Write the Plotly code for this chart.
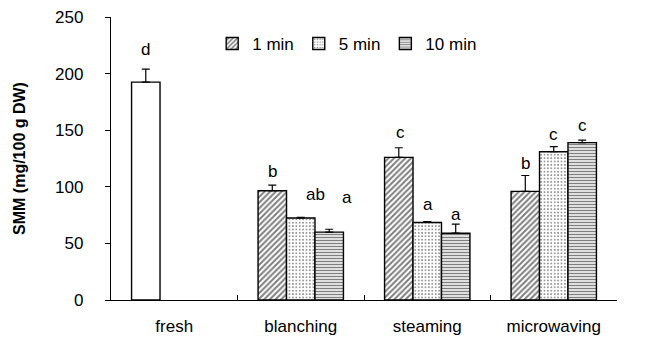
import plotly.graph_objects as go

categories = ["fresh", "blanching", "steaming", "microwaving"]
series_names = ["1 min", "5 min", "10 min"]
fresh_values = [192.5, None, None, None]
fresh_err = [11.5, 0, 0, 0]
values_1min = [None, 96.5, 126, 96]
values_5min = [None, 72.5, 68.5, 131]
values_10min = [None, 60, 59, 139]
err_1min = [0, 5, 8.5, 14]
err_5min = [0, 0.5, 0.7, 4.5]
err_10min = [0, 2.5, 8, 2.3]
fresh_letters = ["d", "", "", ""]
letters_1min = ["", "b", "c", "b"]
letters_5min = ["", "ab", "a", "c"]
letters_10min = ["", "a", "a", "c"]
y_ticks = [0, 50, 100, 150, 200, 250]

W, H = 646, 338
ML, MR, MT, MB = 111, 29, 17, 38
plot_w = W - ML - MR
bargap = 0.325
bar_px = plot_w / len(categories) * (1 - bargap) / 3

# label placement nudges (pixels): (dx, dy above bar/error top)
fresh_nudge = [(0, 20), None, None, None]
nudge_1min = [None, (0, 14), (2, 15), (0, 12)]
nudge_5min = [None, (15, 23), (1, 17), (0, 12)]
nudge_10min = [None, (18, 32), (0, 10), (0, 15)]

font = "Liberation Sans, Arial, sans-serif"
line = dict(color="black", width=1.4)

fig = go.Figure()
# fresh bar shares the 1-min slot
fig.add_trace(go.Bar(
    x=categories, y=fresh_values, name="fresh", showlegend=False, offsetgroup="g1",
    marker=dict(color="white", line=line),
    error_y=dict(type="data", array=fresh_err, arrayminus=[0] * 4, symmetric=False,
                 color="black", thickness=1.2, width=4),
))

patterns = [
    dict(shape="/", size=4, solidity=0.5, fgcolor="black", bgcolor="white"),
    dict(shape=".", size=3.4, solidity=0.22, fgcolor="black", bgcolor="white"),
    dict(shape="-", size=3, solidity=0.5, fgcolor="black", bgcolor="white"),
]
vals = [values_1min, values_5min, values_10min]
errs = [err_1min, err_5min, err_10min]
lets = [letters_1min, letters_5min, letters_10min]
nudges = [nudge_1min, nudge_5min, nudge_10min]
groups = ["g1", "g2", "g3"]

for i, name in enumerate(series_names):
    fig.add_trace(go.Bar(
        x=categories, y=vals[i], name=name, offsetgroup=groups[i],
        marker=dict(color="white", line=line, pattern=patterns[i]),
        error_y=dict(type="data", array=errs[i], arrayminus=[0] * 4, symmetric=False,
                     color="black", thickness=1.2, width=4),
    ))

annotations = []
all_sets = [(fresh_values, fresh_err, fresh_letters, fresh_nudge, 0)] + [
    (vals[i], errs[i], lets[i], nudges[i], i) for i in range(3)]
for v, e, l, n, i in all_sets:
    for j, c in enumerate(categories):
        if l[j] and v[j] is not None:
            dx, dy = n[j]
            annotations.append(dict(
                x=c, y=v[j] + e[j], xref="x", yref="y",
                text=l[j], showarrow=False, yanchor="middle",
                xshift=(i - 1) * bar_px + dx, yshift=dy,
                font=dict(family=font, size=17, color="black"),
            ))

fig.update_layout(
    width=W, height=H,
    margin=dict(l=ML, r=MR, t=MT, b=MB, autoexpand=False),
    paper_bgcolor="white", plot_bgcolor="white",
    barmode="group", bargap=bargap, bargroupgap=0,
    font=dict(family=font, size=17, color="black"),
    legend=dict(orientation="h", x=0.2, y=0.905, xanchor="left", yanchor="middle",
                font=dict(size=17), itemwidth=30, tracegroupgap=0,
                bgcolor="rgba(0,0,0,0)"),
    annotations=annotations,
)
fig.update_xaxes(
    automargin=False,
    showline=True, linecolor="black", linewidth=1.4,
    ticks="inside", tickson="boundaries", ticklen=5, tickcolor="black",
    tickfont=dict(size=17), showgrid=False, ticklabelstandoff=10,
)
fig.update_yaxes(
    automargin=False,
    range=[0, 250], tickvals=y_ticks, showline=True, linecolor="black", linewidth=1.4,
    ticks="outside", ticklen=5, tickcolor="black", showgrid=False, zeroline=False,
    tickfont=dict(size=17), ticklabelstandoff=18,
    title=dict(text="<b>SMM (mg/100 g DW)</b>", font=dict(size=16), standoff=25),
)

fig.write_html("out.html", config={"displayModeBar": False},
               post_script="document.body.style.margin='0';document.body.style.overflow='hidden';")
